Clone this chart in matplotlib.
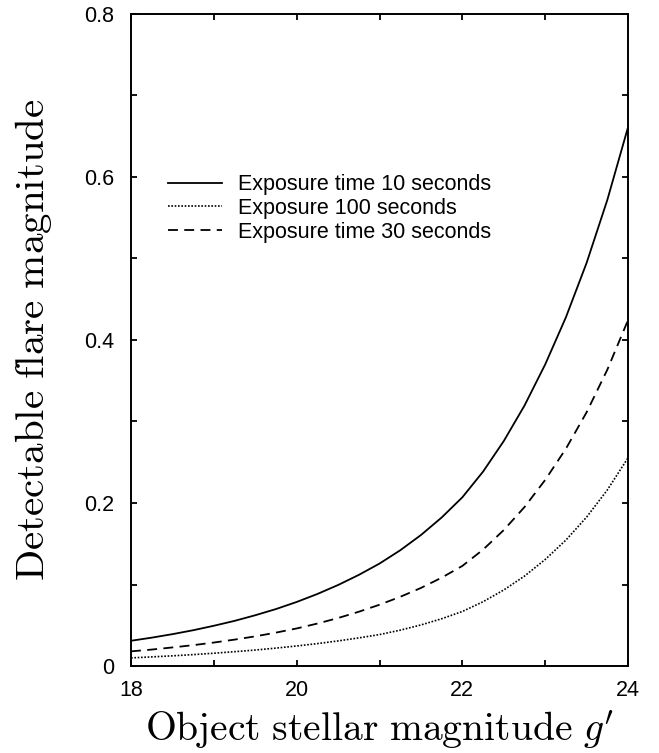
import matplotlib
matplotlib.use("Agg")
import matplotlib.pyplot as plt

plt.rcParams['font.family'] = ['Liberation Sans', 'DejaVu Sans']
plt.rcParams['mathtext.fontset'] = 'cm'

# object magnitude g'
mag = [18.0, 18.25, 18.5, 18.75, 19.0, 19.25, 19.5, 19.75, 20.0, 20.25, 20.5, 20.75,
       21.0, 21.25, 21.5, 21.75, 22.0, 22.25, 22.5, 22.75, 23.0, 23.25, 23.5, 23.75, 24.0]

# detectable flare magnitude for each exposure
exp10 = [0.0310, 0.0348, 0.0391, 0.0439, 0.0494, 0.0554, 0.0623, 0.0699, 0.0786, 0.0884,
         0.0994, 0.1118, 0.1257, 0.1420, 0.1607, 0.1822, 0.2070, 0.2385, 0.2760, 0.3195,
         0.3700, 0.4278, 0.4946, 0.5718, 0.6610]
exp100 = [0.0100, 0.0112, 0.0125, 0.0140, 0.0157, 0.0176, 0.0196, 0.0220, 0.0246, 0.0275,
          0.0308, 0.0345, 0.0386, 0.0440, 0.0504, 0.0580, 0.0669, 0.0789, 0.0933, 0.1103,
          0.1307, 0.1545, 0.1827, 0.2160, 0.2554]
exp30 = [0.0180, 0.0202, 0.0228, 0.0256, 0.0288, 0.0324, 0.0364, 0.0410, 0.0461, 0.0521,
         0.0589, 0.0666, 0.0752, 0.0849, 0.0958, 0.1084, 0.1228, 0.1428, 0.1668, 0.1950,
         0.2283, 0.2666, 0.3113, 0.3635, 0.4244]

xticks = [18, 19, 20, 21, 22, 23, 24]
xlabels = ['18', '', '20', '', '22', '', '24']
yticks = [0, 0.1, 0.2, 0.3, 0.4, 0.5, 0.6, 0.7, 0.8]
ylabels = ['0', '', '0.2', '', '0.4', '', '0.6', '', '0.8']

fig = plt.figure(figsize=(6.59, 7.53), dpi=100)
ax = fig.add_axes([0.1988, 0.1155, 0.7542, 0.866])

ax.plot(mag, exp10, color='black', lw=1.3, label='Exposure time 10 seconds')
ax.plot(mag, exp100, color='black', lw=1.2, dashes=(1, 1), label='Exposure 100 seconds')
ax.plot(mag, exp30, color='black', lw=1.3, dashes=(5.5, 3.5), label='Exposure time 30 seconds')

ax.set_xlim(18, 24)
ax.set_ylim(0, 0.8)
ax.set_xticks(xticks)
ax.set_xticklabels(xlabels)
ax.set_yticks(yticks)
ax.set_yticklabels(ylabels)
ax.tick_params(direction='in', top=True, right=True, length=4, width=1.3,
               labelsize=15.5, pad=10)
ax.tick_params(axis='y', pad=12)
for s in ax.spines.values():
    s.set_linewidth(1.4)

ax.set_xlabel(r"$\mathrm{Object\ stellar\ magnitude}\ g^{\prime}$", fontsize=28.5, labelpad=5)
ax.set_ylabel(r"$\mathrm{Detectable\ flare\ magnitude}$", fontsize=29.5, labelpad=22)

ax.legend(loc='upper left', bbox_to_anchor=(0.0744, 0.754), frameon=False, fontsize=15.5,
          handlelength=2.5, handletextpad=0.75, labelspacing=0.12, borderpad=0,
          borderaxespad=0)

fig.savefig('out.png', dpi=100)
